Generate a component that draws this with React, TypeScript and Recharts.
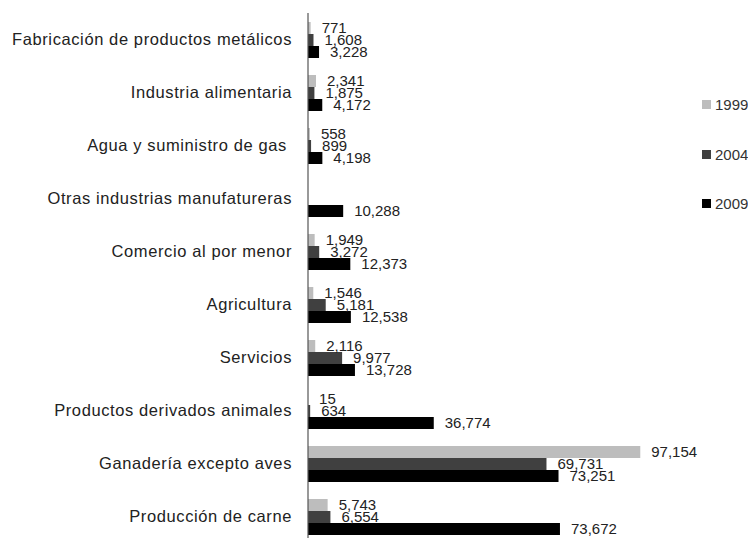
import React from "react";
import { BarChart, Bar, XAxis, YAxis, LabelList, Legend } from "recharts";

const categories = [
  "Fabricación de productos metálicos",
  "Industria alimentaria",
  "Agua y suministro de gas\u00a0",
  "Otras industrias manufatureras",
  "Comercio al por menor",
  "Agricultura",
  "Servicios",
  "Productos derivados animales",
  "Ganadería excepto aves",
  "Producción de carne",
];
const values1999 = [771, 2341, 558, null, 1949, 1546, 2116, 15, 97154, 5743];
const values2004 = [1608, 1875, 899, null, 3272, 5181, 9977, 634, 69731, 6554];
const values2009 = [3228, 4172, 4198, 10288, 12373, 12538, 13728, 36774, 73251, 73672];
const seriesNames = ["1999", "2004", "2009"];
const seriesColors = ["#bdbdbd", "#404040", "#000000"];
const boundaryTicks = [0, 1, 2, 3, 4, 5, 6, 7, 8, 9, 10];

const data = categories.map((name, i) => ({
  name,
  y1999: values1999[i],
  y2004: values2004[i],
  y2009: values2009[i],
}));

const FONT = "'Liberation Sans', Arial, sans-serif";

const fmt = (v: any) => (v === null || v === undefined ? "" : Number(v).toLocaleString("en-US"));

const LegendContent = (props: any) => {
  const payload = props.payload || [];
  return (
    <div style={{ fontFamily: FONT, fontSize: 15, color: "#333" }}>
      {payload.map((p: any) => (
        <div key={p.value} style={{ display: "flex", alignItems: "center", height: 49.5 }}>
          <span style={{ width: 9, height: 9, background: p.color, display: "inline-block", marginRight: 4 }} />
          <span>{p.value}</span>
        </div>
      ))}
    </div>
  );
};

export default function App() {
  return (
    <div style={{ width: 740, height: 530, overflow: "hidden", position: "relative" }}>
      <BarChart
        width={740}
        height={540}
        data={data}
        layout="vertical"
        margin={{ top: 5, right: 38, bottom: 5, left: 0 }}
        barGap={0}
        barSize={12}
      >
        <XAxis type="number" hide domain={[0, 100000]} />
        <YAxis
          yAxisId="grid"
          type="number"
          orientation="left"
          domain={[0, 10]}
          ticks={boundaryTicks}
          width={0}
          axisLine={false}
          tickLine={{ stroke: "#555" }}
          tickSize={5}
          tickFormatter={() => ""}
        />
        <YAxis
          type="category"
          dataKey="name"
          width={300}
          axisLine={{ stroke: "#555", strokeWidth: 1.2 }}
          tickLine={false}
          tickSize={6}
          tickMargin={10}
          tick={{ fontFamily: FONT, fontSize: 16.5, fill: "#222", letterSpacing: 0.6 }}
          interval={0}
        />
        <Legend
          layout="vertical"
          align="right"
          verticalAlign="top"
          content={<LegendContent />}
          wrapperStyle={{ position: "absolute", left: 694, top: 72, width: 60 }}
        />
        {["y1999", "y2004", "y2009"].map((k, i) => (
          <Bar key={k} dataKey={k} name={seriesNames[i]} fill={seriesColors[i]} isAnimationActive={false}>
            <LabelList
              dataKey={k}
              position="right"
              offset={11}
              formatter={fmt}
              style={{ fontFamily: FONT, fontSize: 15, fill: "#222" }}
            />
          </Bar>
        ))}
      </BarChart>
    </div>
  );
}
